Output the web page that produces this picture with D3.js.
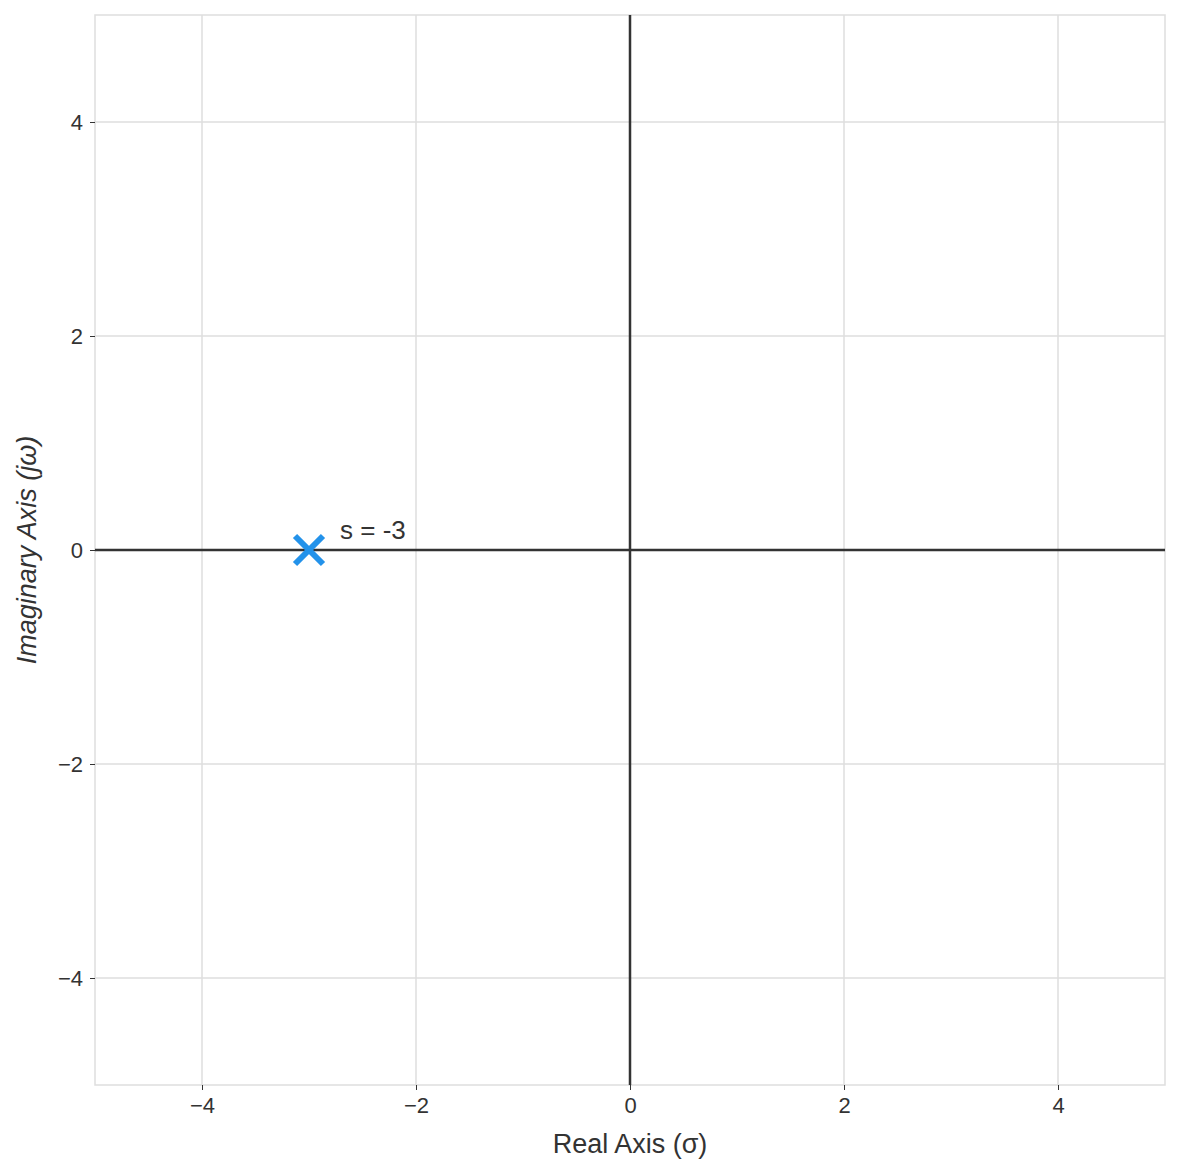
<!DOCTYPE html>
<html><head><meta charset="utf-8">
<script src="https://cdn.jsdelivr.net/npm/d3@7"></script>
<style>body{margin:0;background:#fff}</style>
</head><body>
<svg id="chart" width="1180" height="1174"></svg>
<script>
// pole locations (real, imag)
const poleRe = [-3];
const poleIm = [0];
const poleLabels = ["s = -3"];
const tickVals = [-4, -2, 0, 2, 4];

const svg = d3.select("#chart");
const m = {left: 95, right: 1165, top: 15, bottom: 1085};
const x = d3.scaleLinear().domain([-5, 5]).range([m.left, m.right]);
const y = d3.scaleLinear().domain([-5, 5]).range([m.bottom, m.top]);
const font = "'Liberation Sans', Arial, sans-serif";

// grid
tickVals.forEach(t => {
  svg.append("line").attr("x1", x(t)).attr("x2", x(t)).attr("y1", m.top).attr("y2", m.bottom)
    .attr("stroke", "#dedede").attr("stroke-width", 1.5);
  svg.append("line").attr("y1", y(t)).attr("y2", y(t)).attr("x1", m.left).attr("x2", m.right)
    .attr("stroke", "#dedede").attr("stroke-width", 1.5);
});
svg.append("rect").attr("x", m.left).attr("y", m.top)
  .attr("width", m.right - m.left).attr("height", m.bottom - m.top)
  .attr("fill", "none").attr("stroke", "#dedede").attr("stroke-width", 1.5);

// axes
const fmt = d => d < 0 ? "\u2212" + Math.abs(d) : d;
const xAxis = svg.append("g").attr("transform", `translate(0,${m.bottom})`)
  .call(d3.axisBottom(x).tickValues(tickVals).tickSize(5).tickPadding(7).tickFormat(fmt));
const yAxis = svg.append("g").attr("transform", `translate(${m.left},0)`)
  .call(d3.axisLeft(y).tickValues(tickVals).tickSize(5).tickPadding(7).tickFormat(fmt));
[xAxis, yAxis].forEach(a => {
  a.select(".domain").remove();
  a.selectAll(".tick line").attr("stroke", "#333");
  a.selectAll("text").attr("font-family", font).attr("font-size", 22).attr("fill", "#333");
});

// zero lines
svg.append("line").attr("x1", m.left).attr("x2", m.right).attr("y1", y(0)).attr("y2", y(0))
  .attr("stroke", "#333").attr("stroke-width", 2.5);
svg.append("line").attr("x1", x(0)).attr("x2", x(0)).attr("y1", m.top).attr("y2", m.bottom)
  .attr("stroke", "#333").attr("stroke-width", 2.5);

// poles
poleRe.forEach((re, i) => {
  const cx = x(re), cy = y(poleIm[i]), r = 14;
  const g = svg.append("g");
  g.append("line").attr("x1", cx - r).attr("y1", cy - r).attr("x2", cx + r).attr("y2", cy + r);
  g.append("line").attr("x1", cx - r).attr("y1", cy + r).attr("x2", cx + r).attr("y2", cy - r);
  g.selectAll("line").attr("stroke", "#2392ea").attr("stroke-width", 6);
  svg.append("text").attr("x", cx + 31).attr("y", cy - 11)
    .attr("font-family", font).attr("font-size", 26).attr("fill", "#333").text(poleLabels[i]);
});

// labels
svg.append("text").attr("x", (m.left + m.right) / 2).attr("y", 1153).attr("text-anchor", "middle")
  .attr("font-family", font).attr("font-size", 27).attr("fill", "#333").text("Real Axis (\u03c3)");
svg.append("text").attr("transform", `translate(36,${y(0)}) rotate(-90)`).attr("text-anchor", "middle")
  .attr("font-family", font).attr("font-size", 27).attr("font-style", "italic").attr("fill", "#333")
  .text("Imaginary Axis (j\u03c9)");
</script>
</body></html>
